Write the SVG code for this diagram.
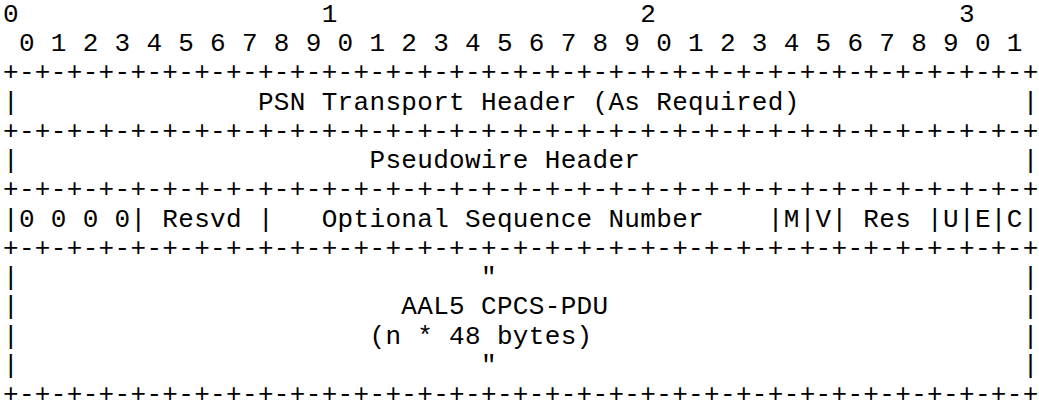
<svg xmlns="http://www.w3.org/2000/svg" width="1039" height="410" viewBox="0 0 1039 410">
<style>
text{font-family:"Liberation Mono","Courier New",monospace;font-size:26px;letter-spacing:0.33px;fill:#000;white-space:pre}
</style>
<rect width="1039" height="410" fill="#fff"/>
<g id="ruler">
<text x="3" y="21.9" xml:space="preserve">0                   1                   2                   3</text>
<text x="3" y="51.15" xml:space="preserve"> 0 1 2 3 4 5 6 7 8 9 0 1 2 3 4 5 6 7 8 9 0 1 2 3 4 5 6 7 8 9 0 1</text>
</g>
<g id="connectors">
<text x="3" y="80.4" xml:space="preserve">+-+-+-+-+-+-+-+-+-+-+-+-+-+-+-+-+-+-+-+-+-+-+-+-+-+-+-+-+-+-+-+-+</text>
<text x="3" y="138.9" xml:space="preserve">+-+-+-+-+-+-+-+-+-+-+-+-+-+-+-+-+-+-+-+-+-+-+-+-+-+-+-+-+-+-+-+-+</text>
<text x="3" y="197.4" xml:space="preserve">+-+-+-+-+-+-+-+-+-+-+-+-+-+-+-+-+-+-+-+-+-+-+-+-+-+-+-+-+-+-+-+-+</text>
<text x="3" y="255.9" xml:space="preserve">+-+-+-+-+-+-+-+-+-+-+-+-+-+-+-+-+-+-+-+-+-+-+-+-+-+-+-+-+-+-+-+-+</text>
<text x="3" y="402.15" xml:space="preserve">+-+-+-+-+-+-+-+-+-+-+-+-+-+-+-+-+-+-+-+-+-+-+-+-+-+-+-+-+-+-+-+-+</text>
</g>
<g id="psn-header">
<text x="3" y="109.65" xml:space="preserve">|               PSN Transport Header (As Required)              |</text>
</g>
<g id="pw-header">
<text x="3" y="168.15" xml:space="preserve">|                      Pseudowire Header                        |</text>
</g>
<g id="control-word">
<text x="3" y="226.65" xml:space="preserve">|0 0 0 0| Resvd |   Optional Sequence Number    |M|V| Res |U|E|C|</text>
</g>
<g id="payload">
<text x="3" y="285.15" xml:space="preserve">|                             "                                 |</text>
<text x="3" y="314.4" xml:space="preserve">|                        AAL5 CPCS-PDU                          |</text>
<text x="3" y="343.65" xml:space="preserve">|                      (n * 48 bytes)                           |</text>
<text x="3" y="372.9" xml:space="preserve">|                             "                                 |</text>
</g>
</svg>
